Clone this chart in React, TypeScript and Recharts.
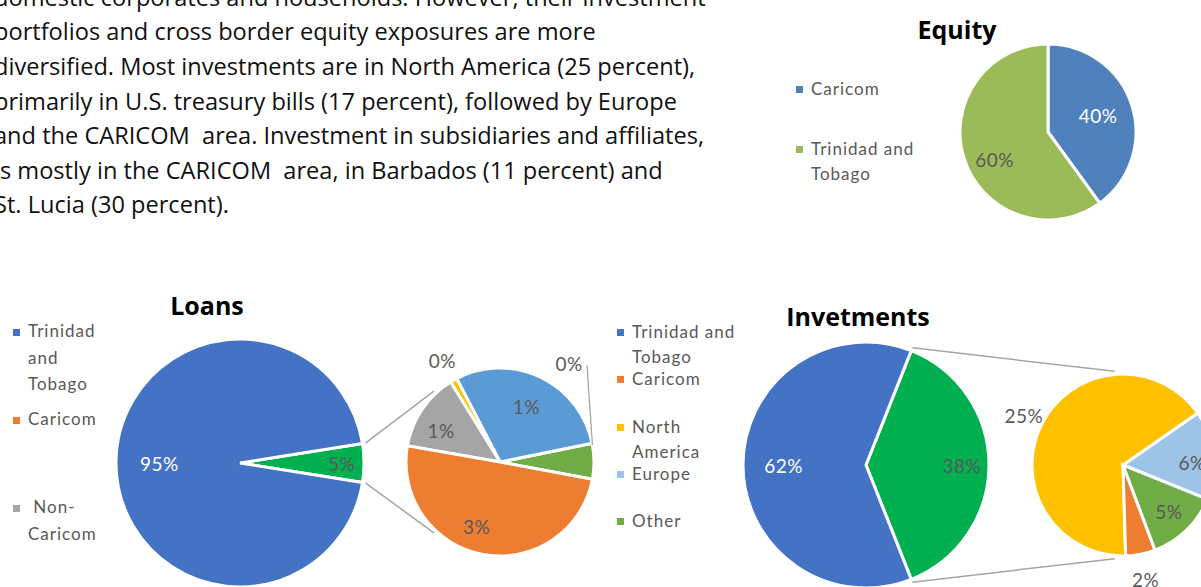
import { PieChart, Pie, Cell } from 'recharts';

const W = 1201;
const H = 587;
const RAD = Math.PI / 180;

// paragraph above the charts, one entry per printed line
const paragraphLines = [
  'domestic corporates and households. However, their investment',
  'portfolios and cross border equity exposures are more',
  'diversified. Most investments are in North America (25 percent),',
  'primarily in U.S. treasury bills (17 percent), followed by Europe',
  'and the CARICOM  area. Investment in subsidiaries and affiliates,',
  'is mostly in the CARICOM  area, in Barbados (11 percent) and',
  'St. Lucia (30 percent).',
];

// Equity
const equityNames = ['Caricom', 'Trinidad and Tobago'];
const equityValues = [40, 60];
const equityLabels = ['40%', '60%'];

// Loans (main pie + breakdown of the 5%)
const loanLegend = ['Trinidad and Tobago', 'Caricom', '\u00a0Non-Caricom'];
const loanMainNames = ['Other', 'Trinidad and Tobago'];
const loanMainValues = [5, 95];
const loanMainLabels = ['5%', '95%'];
const loanSubNames = ['Other', 'Europe', 'North America', 'Non-Caricom', 'Caricom'];
const loanSubValues = [0.31, 1.49, 0.06, 0.68, 2.52];
const loanSubLabels = ['0%', '1%', '0%', '1%', '3%'];

// Investments (main pie + breakdown of the 38%)
const invLegend = ['Trinidad and Tobago', 'Caricom', 'North America', 'Europe', 'Other'];
const invMainNames = ['Other', 'Trinidad and Tobago'];
const invMainValues = [38, 62];
const invMainLabels = ['38%', '62%'];
const invSubNames = ['Europe', 'North America', 'Caricom', 'Other'];
const invSubValues = [6, 25, 2, 5];
const invSubLabels = ['6%', '25%', '2%', '5%'];

const DARK = '#595959';

type LabelPos = { r: number; a?: number; fill: string; leader?: boolean };
type PieSpec = {
  id: string;
  names: string[];
  values: number[];
  labels: string[];
  colors: string[];
  cx: number;
  cy: number;
  r: number;
  start: number;
  end: number;
  labelPos: LabelPos[];
};

const pies: PieSpec[] = [
  {
    id: 'equity',
    names: equityNames,
    values: equityValues,
    labels: equityLabels,
    colors: ['#4F81BD', '#9BBB59'],
    cx: 1048,
    cy: 132,
    r: 88,
    start: 90,
    end: -270,
    labelPos: [
      { r: 0.6, fill: '#fff' },
      { r: 0.68, a: 207, fill: DARK },
    ],
  },
  {
    id: 'loanMain',
    names: loanMainNames,
    values: loanMainValues,
    labels: loanMainLabels,
    colors: ['#00B050', '#4472C4'],
    cx: 240,
    cy: 463,
    r: 124,
    start: -9,
    end: 351,
    labelPos: [
      { r: 0.82, fill: DARK },
      { r: 0.65, fill: '#fff' },
    ],
  },
  {
    id: 'loanSub',
    names: loanSubNames,
    values: loanSubValues,
    labels: loanSubLabels,
    colors: ['#70AD47', '#5B9BD5', '#FFC000', '#A5A5A5', '#ED7D31'],
    cx: 500,
    cy: 462,
    r: 94,
    start: -10.6,
    end: 349.4,
    labelPos: [
      { r: 1.28, a: 55, fill: DARK, leader: true },
      { r: 0.65, fill: DARK },
      { r: 1.24, fill: DARK },
      { r: 0.71, a: 152, fill: DARK },
      { r: 0.73, a: 250, fill: DARK },
    ],
  },
  {
    id: 'invMain',
    names: invMainNames,
    values: invMainValues,
    labels: invMainLabels,
    colors: ['#00B050', '#4472C4'],
    cx: 866,
    cy: 465,
    r: 123,
    start: -68.4,
    end: 291.6,
    labelPos: [
      { r: 0.78, fill: DARK },
      { r: 0.67, fill: '#fff' },
    ],
  },
  {
    id: 'invSub',
    names: invSubNames,
    values: invSubValues,
    labels: invSubLabels,
    colors: ['#9DC3E6', '#FFC000', '#ED7D31', '#70AD47'],
    cx: 1123,
    cy: 465,
    r: 91,
    start: -22,
    end: 338,
    labelPos: [
      { r: 0.76, a: 2, fill: DARK },
      { r: 1.22, fill: DARK },
      { r: 1.28, fill: DARK },
      { r: 0.72, fill: DARK },
    ],
  },
];

const labelFont = 'Lato, "Open Sans", sans-serif';
const bodyFont = 23.6;

function polar(cx: number, cy: number, r: number, a: number) {
  return { x: cx + r * Math.cos(-a * RAD), y: cy + r * Math.sin(-a * RAD) };
}

function makeLabel(spec: PieSpec) {
  return (p: any) => {
    const pos = spec.labelPos[p.index];
    const a = pos.a ?? p.midAngle;
    const { x, y } = polar(p.cx, p.cy, p.outerRadius * pos.r, a);
    let leader = null;
    if (pos.leader) {
      const end = polar(p.cx, p.cy, p.outerRadius, p.endAngle - 1);
      leader = <line x1={x + 18} y1={y + 2} x2={end.x} y2={end.y} stroke="#A5A5A5" strokeWidth={1.3} />;
    }
    return (
      <g key={`${spec.id}-lbl-${p.index}`}>
        {leader}
        <text
          x={x}
          y={y}
          textAnchor="middle"
          dominantBaseline="central"
          fill={pos.fill}
          fontSize={19}
          fontFamily={labelFont}
          letterSpacing={0.5}
        >
          {spec.labels[p.index]}
        </text>
      </g>
    );
  };
}

// edges of the first slice of a main pie, joined to the secondary pie
function connectorLines(main: PieSpec, sub: PieSpec, subAngle: number) {
  const total = main.values.reduce((s, v) => s + v, 0);
  const a1 = main.start;
  const a2 = main.start + (main.values[0] / total) * 360;
  const p1 = polar(main.cx, main.cy, main.r + 3, a2);
  const q1 = polar(sub.cx, sub.cy, sub.r + 3, subAngle);
  const p2 = polar(main.cx, main.cy, main.r + 3, a1);
  const q2 = polar(sub.cx, sub.cy, sub.r + 3, -subAngle);
  return [
    [p1, q1],
    [p2, q2],
  ];
}

type LegendProps = {
  names: string[];
  colors: string[];
  left: number;
  firstCenter: number;
  gap: number;
  lineHeight: number;
  width: number;
};

function LegendBlock({ names, colors, left, firstCenter, gap, lineHeight, width }: LegendProps) {
  return (
    <>
      {names.map((n, i) => (
        <div
          key={n}
          style={{
            position: 'absolute',
            left,
            top: firstCenter + i * gap - lineHeight / 2 - 1.5,
            width,
            fontFamily: labelFont,
            fontSize: 17,
            letterSpacing: 1,
            lineHeight: `${lineHeight}px`,
            color: DARK,
            whiteSpace: 'normal',
          }}
        >
          <span
            style={{
              position: 'absolute',
              left: -15,
              top: lineHeight / 2 - 2.5,
              width: 7,
              height: 7,
              background: colors[i],
            }}
          />
          {n}
        </div>
      ))}
    </>
  );
}

export default function App() {
  const [equity, loanMain, loanSub, invMain, invSub] = pies;
  const connectors = [
    ...connectorLines(loanMain, loanSub, 133),
    ...connectorLines(invMain, invSub, 95),
  ];
  return (
    <div
      style={{
        position: 'absolute',
        left: 0,
        top: 0,
        width: W,
        height: H,
        overflow: 'hidden',
        background: '#fff',
      }}
    >
      <svg width={W} height={H} style={{ position: 'absolute', left: 0, top: 0 }}>
        {paragraphLines.map((line, i) => (
          <text
            key={i}
            x={-6}
            y={-0.6 + i * 34.6 + bodyFont * 0.27}
            fontFamily='"Open Sans", sans-serif'
            fontSize={bodyFont}
            fill="#111"
            style={{ whiteSpace: 'pre' }}
          >
            {line}
          </text>
        ))}
      </svg>

      <div style={{ position: 'absolute', left: 0, top: 0 }}>
        <PieChart width={W} height={H} margin={{ top: 0, right: 0, bottom: 0, left: 0 }}>
          {pies.map((spec) => (
            <Pie
              key={spec.id}
              data={spec.names.map((name, i) => ({ name, value: spec.values[i] }))}
              dataKey="value"
              nameKey="name"
              cx={spec.cx}
              cy={spec.cy}
              outerRadius={spec.r}
              startAngle={spec.start}
              endAngle={spec.end}
              stroke="#fff"
              strokeWidth={3}
              label={makeLabel(spec)}
              labelLine={false}
              isAnimationActive={false}
            >
              {spec.names.map((name, i) => (
                <Cell key={name + i} fill={spec.colors[i]} />
              ))}
            </Pie>
          ))}
        </PieChart>
      </div>

      <svg width={W} height={H} style={{ position: 'absolute', left: 0, top: 0, pointerEvents: 'none' }}>
        {connectors.map(([p, q], i) => (
          <line key={i} x1={p.x} y1={p.y} x2={q.x} y2={q.y} stroke="#A5A5A5" strokeWidth={1.5} />
        ))}
        <text x={957} y={29} textAnchor="middle" dominantBaseline="central" fontFamily='"Open Sans", sans-serif' fontWeight={700} fontSize={25} fill="#000">
          Equity
        </text>
        <text x={207} y={305} textAnchor="middle" dominantBaseline="central" fontFamily='"Open Sans", sans-serif' fontWeight={700} fontSize={25} fill="#000">
          Loans
        </text>
        <text x={858} y={316} textAnchor="middle" dominantBaseline="central" fontFamily='"Open Sans", sans-serif' fontWeight={700} fontSize={25} fill="#000">
          Invetments
        </text>
      </svg>

      <LegendBlock names={equityNames} colors={equity.colors} left={811} firstCenter={90} gap={60} lineHeight={25} width={115} />
      <LegendBlock
        names={loanLegend}
        colors={['#4472C4', '#ED7D31', '#A5A5A5']}
        left={28}
        firstCenter={333}
        gap={88}
        lineHeight={26.5}
        width={80}
      />
      <LegendBlock
        names={invLegend}
        colors={['#4472C4', '#ED7D31', '#FFC000', '#9DC3E6', '#70AD47']}
        left={632}
        firstCenter={333}
        gap={47.25}
        lineHeight={25}
        width={115}
      />
    </div>
  );
}
